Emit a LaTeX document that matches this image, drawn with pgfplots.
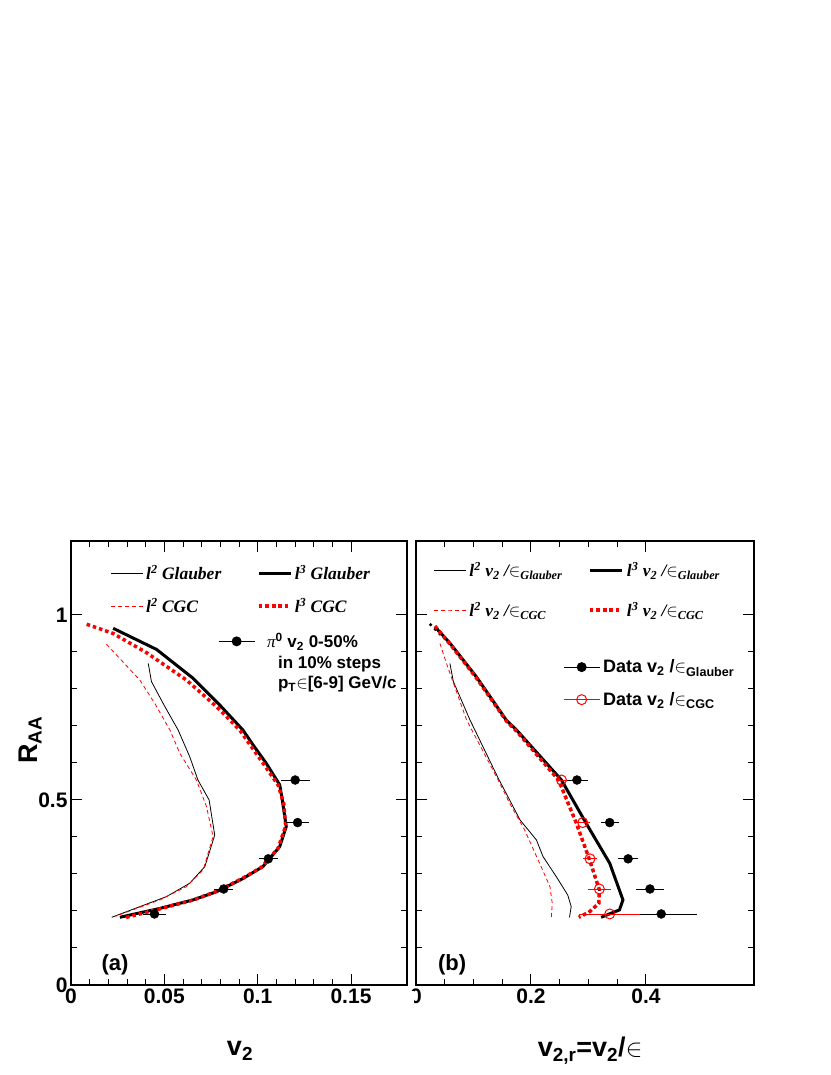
\documentclass[border=0pt]{standalone}
\usepackage{fontspec}
\setmainfont{Liberation Sans}
\newfontfamily\tms{Liberation Serif}
\usepackage{pgfplots}
\pgfplotsset{compat=1.18}

\pgfplotsset{
  rootax/.style={
    scale only axis, height=444pt,
    axis line style={line width=1.2pt},
    tick align=inside, tick style={black, line width=1pt},
    major tick length=11pt, minor tick length=6pt,
    ymin=0, ymax=1.2, ytick={0,0.5,1}, minor y tick num=4,
    scaled ticks=false,
    tick label style={font=\fontsize{21}{24}\selectfont\bfseries},
    /pgf/number format/fixed, /pgf/number format/precision=3,
    /pgf/number format/assume math mode=true,
    legend cell align=left,
    legend image code/.code={\draw[mark repeat=2,mark phase=2,##1]
      plot coordinates {(0pt,0pt) (16pt,0pt) (32pt,0pt)};},
  },
  hidden/.style={scale only axis, height=444pt, ymin=0, ymax=1.2, hide axis,
    legend cell align=left,
    legend image code/.code={\draw[mark repeat=2,mark phase=2,##1]
      plot coordinates {(0pt,0pt) (18pt,0pt) (36pt,0pt)};},
  },
  thinblk/.style={black, line width=0.8pt},
  thickblk/.style={black, line width=3pt},
  thinred/.style={red, line width=0.8pt, dash pattern=on 4pt off 3pt},
  thickred/.style={red, line width=3.5pt, dash pattern=on 3.5pt off 3pt},
  datapt/.style={black, mark=*, mark size=4.5pt, only marks,
    error bars/.cd, x dir=both, x explicit, error mark=none,
    error bar style={line width=0.9pt, black}},
  datared/.style={red, mark=o, mark size=5pt, only marks, mark options={line width=1pt},
    error bars/.cd, x dir=both, x explicit, error mark=none,
    error bar style={line width=0.9pt, red}},
}

\begin{document}
\begin{tikzpicture}
\useasboundingbox (0pt,0pt) rectangle (830pt,1075pt);

% ---------------- panel (a)
\begin{axis}[rootax, at={(71pt,90pt)}, anchor=south west, width=336pt,
  xmin=0, xmax=0.18, xtick={0,0.05,0.1,0.15}, minor x tick num=4,
  xlabel={v\textsubscript{2}}, ylabel={R\textsubscript{AA}},
  label style={font=\fontsize{27}{30}\selectfont\bfseries},
  xlabel style={at={(axis description cs:0.503,-0.148)}, anchor=center},
  ylabel style={at={(axis description cs:-0.122,0.552)}, anchor=center},
  legend columns=2,
  legend style={at={(axis description cs:0.118,0.948)}, anchor=north west,
    draw=none, fill=none, inner sep=0pt, row sep=15pt,
    nodes={inner xsep=2.5pt, inner ysep=1pt},
    font=\tms\bfseries\itshape\fontsize{17.5}{19}\selectfont,
    /tikz/every even column/.append style={column sep=33pt}},
]
\addplot[thinblk] coordinates {
 (0.0414,0.869) (0.0431,0.820) (0.0500,0.755) (0.0574,0.689) (0.0636,0.617)
 (0.0680,0.554) (0.0740,0.500) (0.0770,0.405) (0.0717,0.320) (0.0636,0.275)
 (0.0512,0.239) (0.0218,0.183)};
\addlegendentry{l\textsuperscript{2} Glauber}
\addplot[thickblk] coordinates {
 (0.0226,0.964) (0.0458,0.907) (0.0654,0.829) (0.0800,0.755) (0.0921,0.689)
 (0.0975,0.649) (0.1046,0.599) (0.1118,0.541) (0.1132,0.500) (0.1153,0.428)
 (0.1118,0.374) (0.1028,0.320) (0.0922,0.288) (0.0779,0.252) (0.0654,0.230)
 (0.0476,0.207) (0.0262,0.183)};
\addlegendentry{l\textsuperscript{3} Glauber}
\addplot[thinred] coordinates {
 (0.0190,0.921) (0.0369,0.824) (0.0450,0.760) (0.0530,0.689) (0.0583,0.626)
 (0.0672,0.554) (0.0726,0.482) (0.0761,0.401) (0.0708,0.311) (0.0619,0.266)
 (0.0476,0.230) (0.0240,0.186)};
\addlegendentry{l\textsuperscript{2} CGC}
\addplot[thickred] coordinates {
 (0.0084,0.975) (0.0226,0.950) (0.0405,0.898) (0.0619,0.824) (0.0780,0.752)
 (0.0904,0.689) (0.0965,0.645) (0.1035,0.595) (0.1110,0.540) (0.1140,0.490)
 (0.1150,0.430) (0.1110,0.370) (0.1020,0.318) (0.0915,0.287) (0.0775,0.252)
 (0.0650,0.229) (0.0470,0.205) (0.0290,0.182)};
\addlegendentry{l\textsuperscript{3} CGC}
\addplot[forget plot, datapt] coordinates {
 (0.1201,0.554) +- (0.0077,0)
 (0.1214,0.439) +- (0.0060,0)
 (0.1057,0.341) +- (0.0050,0)
 (0.0818,0.2595) +- (0.0050,0)
 (0.0447,0.192) +- (0.0063,0)};
\node[font=\fontsize{22}{24}\selectfont\bfseries] at (axis description cs:0.131,0.045) {(a)};
\end{axis}
\begin{axis}[hidden, at={(71pt,90pt)}, anchor=south west, width=336pt, xmin=0, xmax=0.18,
  legend style={at={(axis description cs:0.4375,0.797)}, anchor=north west,
    draw=none, fill=none, inner sep=0pt,
    font=\bfseries\fontsize{17}{20.5}\selectfont}]
\addlegendimage{black, mark=*, mark size=4.5pt, line width=0.9pt}
\addlegendentry{\begin{tabular}[t]{@{}l@{}}\hspace{10pt}{\tms\mdseries\itshape π}\textsuperscript{0} v\textsubscript{2} 0-50\%\\
  \hspace{21pt}in 10\% steps\\ \hspace{21pt}p\textsubscript{T}$\in$[6-9] GeV/c\end{tabular}}
\end{axis}

% ---------------- panel (b)
\begin{axis}[rootax, at={(416pt,90pt)}, anchor=south west, width=338pt,
  xmin=0, xmax=0.588, xtick={0,0.2,0.4}, minor x tick num=3,
  yticklabels={},
  xlabel={v\textsubscript{2,r}=v\textsubscript{2}/$\in$},
  label style={font=\fontsize{27}{30}\selectfont\bfseries},
  xlabel style={at={(axis description cs:0.515,-0.148)}, anchor=center},
  legend columns=2,
  legend style={at={(axis description cs:0.05,0.955)}, anchor=north west,
    draw=none, fill=none, inner sep=0pt, row sep=22pt,
    nodes={inner xsep=3.5pt, inner ysep=1pt},
    font=\tms\bfseries\itshape\fontsize{17.5}{19}\selectfont,
    /tikz/every even column/.append style={column sep=22pt}},
]
\addplot[thinblk] coordinates {
 (0.059,0.869) (0.065,0.820) (0.094,0.716) (0.143,0.559) (0.181,0.446)
 (0.2095,0.392) (0.221,0.347) (0.244,0.293) (0.264,0.243) (0.270,0.212)
 (0.267,0.183)};
\addlegendentry{l\textsuperscript{2} v\textsubscript{2} /$\in$\textsubscript{Glauber}}
\addplot[thickblk] coordinates {
 (0.033,0.968) (0.059,0.924) (0.105,0.833) (0.157,0.716) (0.175,0.689)
 (0.253,0.554) (0.296,0.437) (0.337,0.329) (0.360,0.230) (0.354,0.203)
 (0.322,0.183)};
\addlegendentry{l\textsuperscript{3} v\textsubscript{2} /$\in$\textsubscript{Glauber}}
\addplot[thinred] coordinates {
 (0.0417,0.923) (0.053,0.869) (0.088,0.716) (0.143,0.554) (0.163,0.491)
 (0.189,0.419) (0.215,0.329) (0.233,0.266) (0.237,0.221) (0.2355,0.183)};
\addlegendentry{l\textsuperscript{2} v\textsubscript{2} /$\in$\textsubscript{CGC}}
\addplot[black, line width=2.5pt, dash pattern=on 2.5pt off 4pt, forget plot] coordinates {
 (0.024,0.976) (0.059,0.922) (0.105,0.830) (0.157,0.714) (0.175,0.686)
 (0.248,0.554) (0.279,0.437) (0.302,0.338) (0.319,0.257) (0.318,0.221)
 (0.302,0.198) (0.2835,0.183)};
\addplot[thickred] coordinates {
 (0.033,0.970) (0.059,0.922) (0.105,0.830) (0.157,0.714) (0.175,0.686)
 (0.248,0.554) (0.279,0.437) (0.302,0.338) (0.319,0.257) (0.318,0.221)
 (0.302,0.198) (0.2835,0.183)};
\addlegendentry{l\textsuperscript{3} v\textsubscript{2} /$\in$\textsubscript{CGC}}
\addplot[forget plot, datapt] coordinates {
 (0.280,0.554) +- (0.019,0)
 (0.337,0.439) +- (0.016,0)
 (0.369,0.341) +- (0.018,0)
 (0.407,0.2595) +- (0.025,0)
 (0.4266,0.192) +- (0.062,0)};
\addplot[forget plot, datared] coordinates {
 (0.253,0.554) +- (0.010,0)
 (0.290,0.439) +- (0.013,0)
 (0.3027,0.341) +- (0.013,0)
 (0.319,0.2595) +- (0.020,0)
 (0.337,0.192) +- (0.053,0)};
\node[font=\fontsize{22}{24}\selectfont\bfseries] at (axis description cs:0.107,0.045) {(b)};
\end{axis}
\begin{axis}[hidden, at={(416pt,90pt)}, anchor=south west, width=338pt, xmin=0, xmax=0.588,
  legend style={at={(axis description cs:0.435,0.735)}, anchor=north west,
    draw=none, fill=none, inner sep=0pt, row sep=16pt,
    nodes={inner xsep=3pt, inner ysep=1pt},
    font=\bfseries\fontsize{18}{20}\selectfont}]
\addlegendimage{black, mark=*, mark size=4.5pt, line width=0.9pt}
\addlegendentry{Data v\textsubscript{2} /$\in$\textsubscript{Glauber}}
\addlegendimage{red, mark=o, mark size=5pt, line width=0.9pt, mark options={line width=1pt}}
\addlegendentry{Data v\textsubscript{2} /$\in$\textsubscript{CGC}}
\end{axis}

% the zero of panel (b) is partly hidden by panel (a)
\fill[white] (396pt,60pt) rectangle (413.5pt,84pt);
\end{tikzpicture}
\end{document}
